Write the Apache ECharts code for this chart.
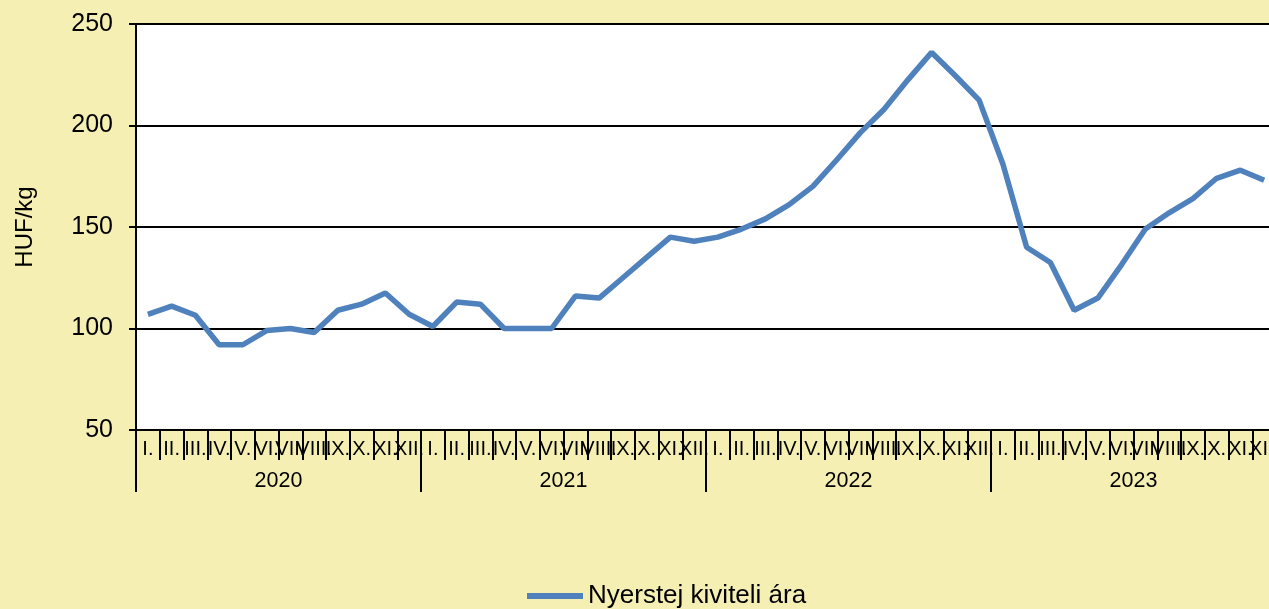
<!DOCTYPE html>
<html>
<head>
<meta charset="utf-8">
<script src="https://cdn.jsdelivr.net/npm/echarts@6/dist/echarts.min.js"></script>
<style>
html,body{margin:0;padding:0;background:#F5EFB4;}
#chart{width:1269px;height:609px;}
</style>
</head>
<body>
<div id="chart"></div>
<script>
const monthNames = ['I.','II.','III.','IV.','V.','VI.','VII.','VIII.','IX.','X.','XI.','XII.'];
const years = ['2020','2021','2022','2023'];
const seriesName = 'Nyerstej kiviteli ára';
const values2020 = [107, 111, 106.5, 92, 92, 99, 100, 98, 109, 112, 117.5, 107];
const values2021 = [101, 113, 112, 100, 100, 100, 116, 115, 125, 135, 145, 143];
const values2022 = [145, 149, 154, 161, 170, 183, 196.5, 208, 222.5, 236, 224.5, 212.5];
const values2023 = [181, 140, 132.5, 109, 115, 131.5, 149, 157, 164, 174, 178, 173];
const yTicks = {min: 50, max: 250, interval: 50};

const monthCats = [];
years.forEach(y => monthNames.forEach(m => monthCats.push(m)));
const values = [].concat(values2020, values2021, values2022, values2023);

const chart = echarts.init(document.getElementById('chart'));
const font = 'Liberation Sans, Arial, sans-serif';
chart.setOption({
  backgroundColor: '#F5EFB4',
  animation: false,
  grid: {left: 136, top: 24, right: -7, bottom: 179, backgroundColor: '#FFFFFF', show: true, borderWidth: 0,
         containLabel: false, outerBoundsMode: 'none'},
  legend: {
    data: [seriesName],
    left: 522, top: 578,
    itemWidth: 56, itemHeight: 6, itemGap: 5,
    icon: 'rect',
    textStyle: {fontFamily: font, fontSize: 26, color: '#000', padding: [0,0,0,0]}
  },
  xAxis: [
    {
      type: 'category', data: monthCats, boundaryGap: true, position: 'bottom',
      axisLine: {show: true, lineStyle: {color: '#000', width: 2}},
      axisTick: {show: true, interval: 0, length: 30, lineStyle: {color: '#000', width: 2}},
      axisLabel: {interval: 0, margin: 9, fontFamily: font, fontSize: 20, color: '#000'},
      splitLine: {show: false}
    },
    {
      type: 'category', data: years, boundaryGap: true, position: 'bottom', offset: 0,
      axisLine: {show: false},
      axisTick: {show: true, interval: 0, length: 62, lineStyle: {color: '#000', width: 2}},
      axisLabel: {interval: 0, margin: 40, fontFamily: font, fontSize: 21.5, color: '#000'},
      splitLine: {show: false}
    }
  ],
  yAxis: {
    type: 'value', min: yTicks.min, max: yTicks.max, interval: yTicks.interval,
    name: 'HUF/kg', nameLocation: 'middle', nameRotate: 90, nameGap: 99,
    nameTextStyle: {fontFamily: font, fontSize: 24, color: '#000'},
    axisLine: {show: true, lineStyle: {color: '#000', width: 2}},
    axisTick: {show: true, length: 7, lineStyle: {color: '#000', width: 2}},
    axisLabel: {margin: 23, fontFamily: font, fontSize: 25, color: '#000'},
    splitLine: {show: true, lineStyle: {color: '#000', width: 2}}
  },
  series: [{
    name: seriesName, type: 'line', xAxisIndex: 0, data: values,
    symbol: 'none', smooth: false,
    lineStyle: {color: '#4F81BD', width: 5.5},
    itemStyle: {color: '#4F81BD'}
  }]
});
</script>
</body>
</html>
